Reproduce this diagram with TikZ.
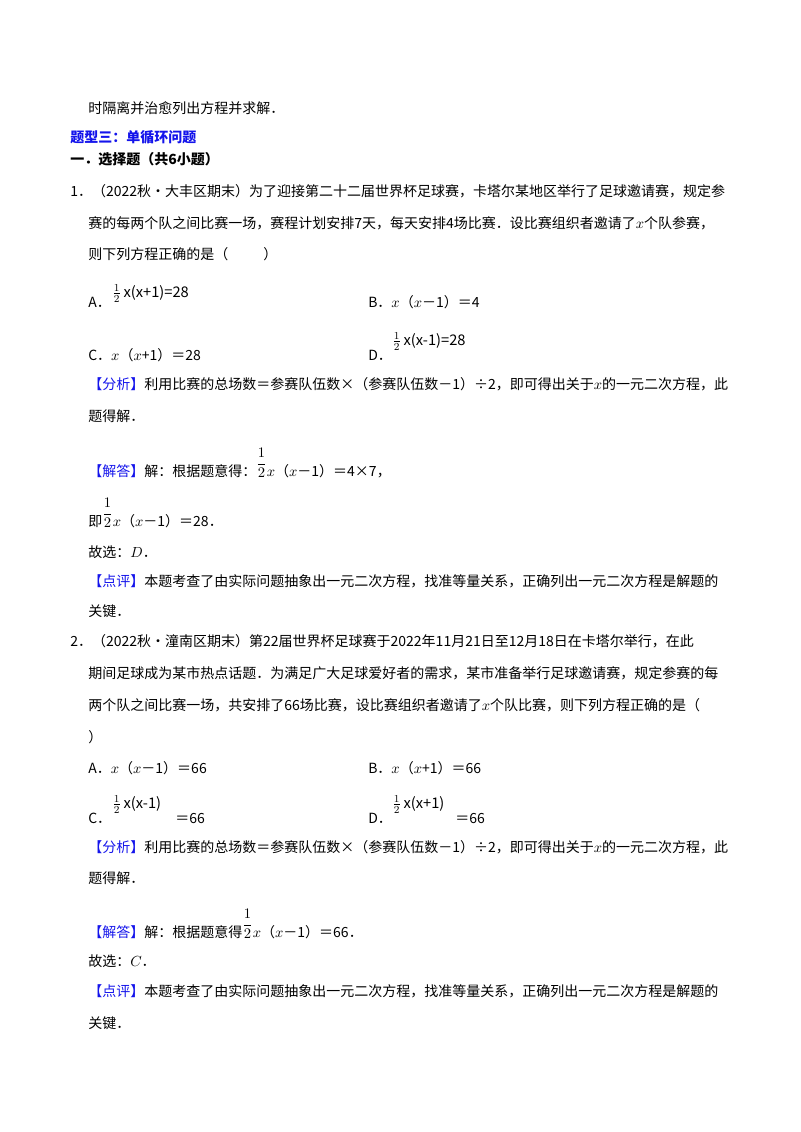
\documentclass[tikz,border=0pt]{standalone}
\usepackage{amsmath}
\usepackage{fontspec}
\setmainfont{Noto Sans CJK SC}
\usetikzlibrary{positioning}
\definecolor{hdblue}{RGB}{20,20,235}
\tikzstyle{line}=[anchor=base west, inner sep=0pt, font=\fontsize{10.5}{12}\selectfont]
\tikzstyle{head}=[line, text=hdblue, font=\fontsize{10.5}{12}\selectfont\bfseries]
\tikzstyle{frac}=[anchor=base west, inner sep=0pt, font=\fontsize{11}{12}\selectfont]
\newcommand{\qtag}[1]{\textcolor{hdblue}{【#1】}}
\newcommand{\hf}{\raisebox{1.1ex}{$\dfrac{1}{2}$}}

\begin{document}
\begin{tikzpicture}[x=0.75pt,y=-0.75pt]
    \useasboundingbox (0,0) rectangle (800,1132);

    \node (L0) [line] at (88,113) {时隔离并治愈列出方程并求解．};
    \node (T3) [head] at (70,142) {题型三：单循环问题};
    \node (S1) [line, font=\fontsize{10.5}{12}\selectfont\bfseries] at (70,164) {一．选择题（共6小题）};

    % question 1
    \node (Q1a) [line] at (70,196) {1．（2022秋•大丰区期末）为了迎接第二十二届世界杯足球赛，卡塔尔某地区举行了足球邀请赛，规定参};
    \node (Q1b) [line] at (88,228) {赛的每两个队之间比赛一场，赛程计划安排7天，每天安排4场比赛．设比赛组织者邀请了$x$个队参赛，};
    \node (Q1c) [line] at (88,259) {则下列方程正确的是（\hspace{2.5em}）};
    \node (A1) [line] at (88,307) {A．};
    \node (A1f) [frac] at (112,297) {$\tfrac{1}{2}$\,x(x+1)=28};
    \node (B1) [line] at (368,307) {B．$x$（$x$－1）＝4};
    \node (C1) [line] at (88,360) {C．$x$（$x$+1）＝28};
    \node (D1) [line] at (368,360) {D．};
    \node (D1f) [frac] at (392,345) {$\tfrac{1}{2}$\,x(x-1)=28};

    \node (F1a) [line] at (88,389) {\qtag{分析}利用比赛的总场数＝参赛队伍数×（参赛队伍数－1）÷2，即可得出关于$x$的一元二次方程，此};
    \node (F1b) [line] at (88,421) {题得解．};
    \node (J1a) [line] at (88,476) {\qtag{解答}解：根据题意得：\hf$x$（$x$－1）＝4×7，};
    \node (J1b) [line] at (88,526) {即\hf$x$（$x$－1）＝28．};
    \node (G1) [line] at (88,557) {故选：$D$．};
    \node (P1a) [line] at (88,586) {\qtag{点评}本题考查了由实际问题抽象出一元二次方程，找准等量关系，正确列出一元二次方程是解题的};
    \node (P1b) [line] at (88,616) {关键．};

    % question 2
    \node (Q2a) [line] at (70,646) {2．（2022秋•潼南区期末）第22届世界杯足球赛于2022年11月21日至12月18日在卡塔尔举行，在此};
    \node (Q2b) [line] at (88,678) {期间足球成为某市热点话题．为满足广大足球爱好者的需求，某市准备举行足球邀请赛，规定参赛的每};
    \node (Q2c) [line] at (88,710) {两个队之间比赛一场，共安排了66场比赛，设比赛组织者邀请了$x$个队比赛，则下列方程正确的是（};
    \node (Q2d) [line] at (88,742) {）};
    \node (A2) [line] at (88,773) {A．$x$（$x$－1）＝66};
    \node (B2) [line] at (368,773) {B．$x$（$x$+1）＝66};
    \node (C2) [line] at (88,823) {C．};
    \node (C2f) [frac] at (112,808) {$\tfrac{1}{2}$\,x(x-1)};
    \node (C2e) [line] at (175,823) {＝66};
    \node (D2) [line] at (368,823) {D．};
    \node (D2f) [frac] at (392,808) {$\tfrac{1}{2}$\,x(x+1)};
    \node (D2e) [line] at (455,823) {＝66};

    \node (F2a) [line] at (88,852) {\qtag{分析}利用比赛的总场数＝参赛队伍数×（参赛队伍数－1）÷2，即可得出关于$x$的一元二次方程，此};
    \node (F2b) [line] at (88,883) {题得解．};
    \node (J2) [line] at (88,937) {\qtag{解答}解：根据题意得\hf$x$（$x$－1）＝66．};
    \node (G2) [line] at (88,966) {故选：$C$．};
    \node (P2a) [line] at (88,996) {\qtag{点评}本题考查了由实际问题抽象出一元二次方程，找准等量关系，正确列出一元二次方程是解题的};
    \node (P2b) [line] at (88,1028) {关键．};
\end{tikzpicture}
\end{document}
